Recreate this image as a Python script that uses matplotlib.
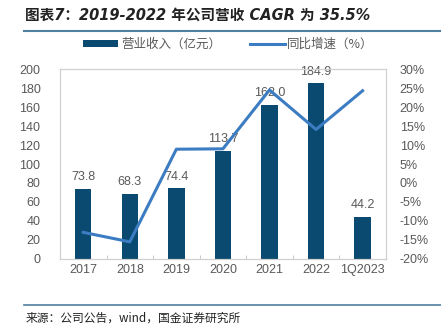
import matplotlib.pyplot as plt
import matplotlib.lines as mlines
import matplotlib.patches as patches
import numpy as np

plt.rcParams['font.family'] = ['Liberation Sans', 'Noto Sans CJK SC', 'DejaVu Sans']

# dados
anos = ['2017', '2018', '2019', '2020', '2021', '2022', '1Q2023']
receita = [73.8, 68.3, 74.4, 113.7, 162.0, 184.9, 44.2]
crescimento = [-13.0, -15.5, 8.9, 9.0, 24.5, 14.1, 24.3]

cor_barra = '#0b4a70'
cor_linha = '#3b7cc2'
cor_texto = '#595959'
cor_regua = '#4f7f9f'

fig = plt.figure(figsize=(4.41, 3.29), dpi=100)
ax = fig.add_axes([0.136, 0.213, 0.739, 0.577])
ax2 = ax.twinx()

x = np.arange(len(anos))
ax.bar(x, receita, width=0.35, color=cor_barra, zorder=2)
for xi, v in zip(x, receita):
    ax.text(xi, v + 6, f'{v:.1f}', ha='center', va='bottom', fontsize=9, color=cor_texto)

ax2.plot(x, crescimento, color=cor_linha, linewidth=2.2, zorder=3)

ax.set_xlim(-0.5, len(anos) - 0.5)
ax.set_ylim(0, 200)
ax.set_yticks(range(0, 201, 20))
ax2.set_ylim(-20, 30)
ax2.set_yticks(range(-20, 31, 5))
ax2.set_yticklabels([f'{t}%' for t in range(-20, 31, 5)])
ax.set_xticks(x)
ax.set_xticklabels(anos)
ax.set_xticks(np.arange(-0.5, len(anos), 1), minor=True)

for a in (ax, ax2):
    for s in a.spines.values():
        s.set_color('#d0d0d0')
        s.set_linewidth(0.8)
    a.tick_params(labelsize=9, colors=cor_texto, length=0)
ax.tick_params(axis='x', which='minor', length=3, color='#bfbfbf', direction='in')
ax.tick_params(axis='y', pad=14)
ax2.tick_params(axis='y', pad=10)
for lbl in ax2.get_yticklabels():
    lbl.set_horizontalalignment('left')

# legenda
patch_list = [patches.Patch(facecolor=cor_barra, label='营业收入（亿元）'),
              mlines.Line2D([], [], color=cor_linha, linewidth=2.2, label='同比增速（%）')]
fig.legend(handles=patch_list, loc='center', bbox_to_anchor=(0.518, 0.866), ncols=2,
           frameon=False, handlelength=2.8, handleheight=0.5,
           columnspacing=2.3, handletextpad=0.2, labelcolor=cor_texto,
           prop={'family': ['Noto Sans CJK SC'], 'size': 9})

# título e fonte
fig.text(0.056, 0.955, '图表7：2019-2022 年公司营收 CAGR 为 35.5%', fontsize=10.5,
         fontweight='bold', style='italic', color='#222222', va='center',
         family=['DejaVu Sans', 'Noto Sans CJK SC'])
fig.add_artist(mlines.Line2D([0.054, 1.0], [0.905, 0.905], color=cor_regua, linewidth=1.5))
fig.add_artist(mlines.Line2D([0.054, 1.0], [0.073, 0.073], color=cor_regua, linewidth=1.2))
fig.text(0.058, 0.033, '来源：公司公告，wind，国金证券研究所', fontsize=8.5,
         color='#222222', va='center', family=['Noto Sans CJK SC'])

fig.savefig('out.png', dpi=100)
